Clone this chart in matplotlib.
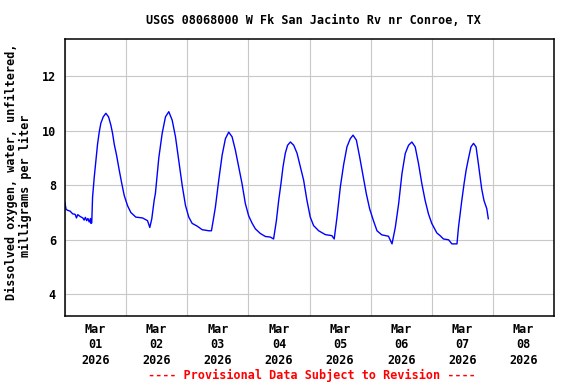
# USGS DO graph - W Fk San Jacinto Rv nr Conroe

import matplotlib
matplotlib.use("Agg")
import matplotlib.pyplot as plt

# ---- 1) Data (hours since Mar 01 00:00, mg/L)
hours = [
    0.0, 0.4, 1.0, 2.0, 3.0, 4.0, 4.5, 5.0, 6.0, 7.0, 7.5, 8.0, 8.5, 9.0, 9.5, 10.0,
    10.16, 10.5, 10.82, 11.49, 12.12, 12.78, 13.45, 14.08, 15.02, 16.04, 17.1, 18.0,
    18.67, 19.33, 20.24, 21.29, 22.31, 23.26, 24.55, 25.84, 27.8, 30.43, 32.4, 33.3,
    34.08, 35.02, 35.5, 36.83, 38.16, 39.45, 40.75, 42.08, 43.38, 44.67, 46.0, 47.3,
    48.6, 49.93, 51.9, 53.85, 56.44, 57.5, 58.0, 59.06, 60.36, 61.7, 62.98, 64.28,
    65.6, 66.9, 68.2, 69.5, 70.8, 72.1, 73.5, 74.75, 76.7, 78.7, 80.6, 81.9, 83.0,
    83.9, 84.8, 85.6, 86.5, 87.4, 88.5, 89.8, 91.1, 92.4, 93.7, 95.0, 96.3, 97.6,
    99.6, 102.2, 104.8, 105.7, 106.8, 108.1, 109.4, 110.7, 112.0, 113.1, 114.4,
    115.7, 117.0, 118.3, 119.6, 121.1, 122.5, 124.4, 127.0, 128.4, 129.7, 131.0,
    132.3, 133.6, 134.9, 136.2, 137.5, 138.8, 140.1, 141.4, 142.7, 144.0, 146.0,
    147.3, 148.6, 150.6, 151.9, 153.9, 154.5, 155.8, 156.7, 157.5, 158.4, 159.4,
    160.4, 161.4, 162.3, 163.6, 164.5, 165.6, 166.2,
]
do_mgl = [
    7.35, 7.12, 7.08, 7.05, 6.95, 6.93, 6.80, 6.92, 6.85, 6.80, 6.72, 6.82, 6.70, 6.78, 6.65, 6.78,
    6.60, 6.62, 7.55, 8.3, 8.9, 9.5, 9.95, 10.27, 10.5, 10.63, 10.5, 10.2,
    9.9, 9.5, 9.1, 8.55, 8.05, 7.62, 7.25, 7.0, 6.83, 6.8, 6.7, 6.45,
    6.77, 7.45, 7.7, 9.0, 9.9, 10.5, 10.69, 10.38, 9.77, 8.9, 8.0, 7.26,
    6.83, 6.6, 6.5, 6.37, 6.33, 6.33, 6.6, 7.2, 8.18, 9.1, 9.7, 9.94,
    9.77, 9.28, 8.67, 8.06, 7.33, 6.88, 6.6, 6.4, 6.23, 6.12, 6.1, 6.03, 6.7,
    7.44, 8.06, 8.67, 9.17, 9.46, 9.58, 9.46, 9.17, 8.67, 8.18, 7.44, 6.83, 6.52,
    6.33, 6.19, 6.15, 6.03, 6.83, 7.93, 8.75, 9.4, 9.7, 9.83, 9.65,
    9.03, 8.36, 7.69, 7.14, 6.7, 6.33, 6.18, 6.13, 5.85, 6.46, 7.32,
    8.42, 9.16, 9.46, 9.58, 9.4, 8.79, 8.06, 7.44, 6.95, 6.6, 6.25,
    6.15, 6.03, 6.0, 5.85, 5.85, 6.46, 7.44, 8.06, 8.55, 8.97, 9.4,
    9.53, 9.4, 8.79, 7.87, 7.44, 7.14, 6.77,
]

day_labels = ["Mar\n01\n2026", "Mar\n02\n2026", "Mar\n03\n2026", "Mar\n04\n2026",
              "Mar\n05\n2026", "Mar\n06\n2026", "Mar\n07\n2026", "Mar\n08\n2026"]
y_ticks = [4, 6, 8, 10, 12]

# ---- 2) Figure
plt.rcParams["font.family"] = "DejaVu Sans Mono"
plt.rcParams["font.weight"] = "bold"
plt.rcParams["font.size"] = 8.5

W, H = 576, 384
fig = plt.figure(figsize=(W / 100, H / 100), dpi=100)
ax = fig.add_axes([65 / W, 1 - 316 / H, (554 - 65) / W, (316 - 39) / H])

ax.plot(hours, do_mgl, color="#0000ff", lw=1.0)

ax.set_xlim(0, 192)
ax.set_ylim(3.21, 13.35)

# gridlines at midnight, labels at noon
ax.set_xticks(range(0, 193, 24))
ax.set_xticklabels([])
ax.set_xticks([12 + 24 * i for i in range(len(day_labels))], minor=True)
ax.set_xticklabels(day_labels, minor=True, linespacing=1.25)
ax.set_yticks(y_ticks)
ax.tick_params(which="both", length=0)
ax.tick_params(axis="x", which="minor", pad=5)
ax.tick_params(axis="y", pad=6.5)

ax.grid(True, which="major", color="#c8c8c8", lw=0.8)
ax.set_axisbelow(True)
for s in ax.spines.values():
    s.set_linewidth(1.1)
    s.set_color("black")

# ---- 3) Texts
fig.text(313 / W, 1 - 20 / H, "USGS 08068000 W Fk San Jacinto Rv nr Conroe, TX",
         ha="center", va="center")
# axis label, one text per line
fig.text(11 / W, 1 - 172 / H, "Dissolved oxygen, water, unfiltered,",
         rotation=90, ha="center", va="center")
fig.text(25 / W, 1 - 186 / H, "milligrams per liter",
         rotation=90, ha="center", va="center")
fig.text(312 / W, 1 - 375 / H, "---- Provisional Data Subject to Revision ----",
         ha="center", va="center", color="#ff0000")

fig.savefig("out.png", dpi=100)
